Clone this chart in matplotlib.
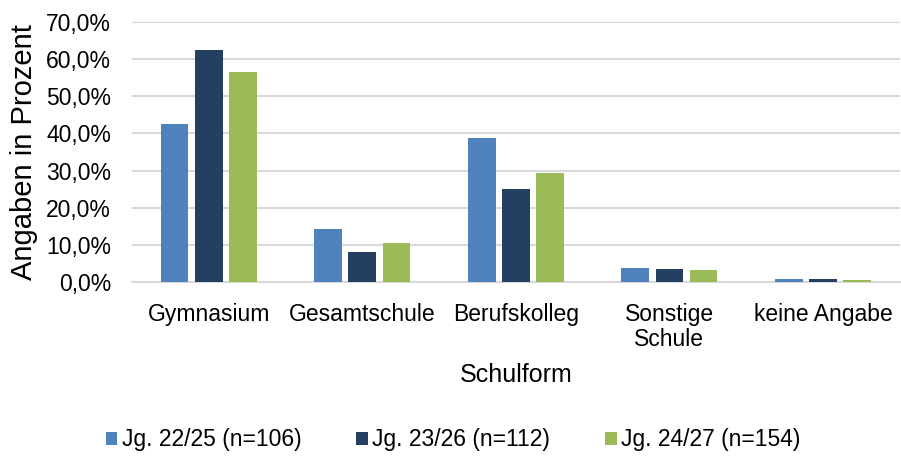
import matplotlib
matplotlib.use("Agg")
import matplotlib.pyplot as plt
import numpy as np
from matplotlib.ticker import FuncFormatter

plt.rcParams['font.family'] = ['Liberation Sans', 'DejaVu Sans']

categories = ["Gymnasium", "Gesamtschule", "Berufskolleg", "Sonstige\nSchule", "keine Angabe"]
series_names = ["Jg. 22/25 (n=106)", "Jg. 23/26 (n=112)", "Jg. 24/27 (n=154)"]
jg_22_25 = [42.5, 14.2, 38.7, 3.8, 0.9]
jg_23_26 = [62.5, 8.1, 25.0, 3.6, 0.9]
jg_24_27 = [56.5, 10.4, 29.3, 3.2, 0.6]
colors = ["#4F81BD", "#243F60", "#9BBB59"]

fig = plt.figure(figsize=(9.01, 4.58), dpi=100)
ax = fig.add_axes([0.1465, 0.384, 0.852, 0.568])

x = np.arange(len(categories))
width = 0.18
step = 0.222
for i, (vals, name, c) in enumerate(zip([jg_22_25, jg_23_26, jg_24_27], series_names, colors)):
    ax.bar(x + (i - 1) * step, vals, width, color=c, label=name, zorder=3)

ax.set_xlim(-0.5, len(categories) - 0.5)
ax.set_ylim(0, 70)
ax.set_yticks(np.arange(0, 71, 10))
ax.yaxis.set_major_formatter(FuncFormatter(lambda v, p: f"{v:.1f}%".replace(".", ",")))
ax.grid(axis='y', color='#D9D9D9', linewidth=1.5, zorder=0)
for s in ["top", "right", "left"]:
    ax.spines[s].set_visible(False)
ax.spines["bottom"].set_color('#D9D9D9')
ax.spines["bottom"].set_linewidth(1.5)
ax.tick_params(axis='both', length=0, labelsize=16.5, colors='black')
ax.tick_params(axis='x', pad=15)
ax.tick_params(axis='y', pad=15)
ax.set_xticks(x)
ax.set_xticklabels(categories, linespacing=1.1)
ax.set_ylabel("Angaben in Prozent", fontsize=21, labelpad=6)
ax.set_xlabel("Schulform", fontsize=18, labelpad=9)

fig.legend(loc='center', bbox_to_anchor=(0.503, 0.04), ncol=3, frameon=False,
           fontsize=16.5, handlelength=0.5, handleheight=0.5, handletextpad=0.2,
           columnspacing=2.4)

fig.savefig("out.png", dpi=100)
